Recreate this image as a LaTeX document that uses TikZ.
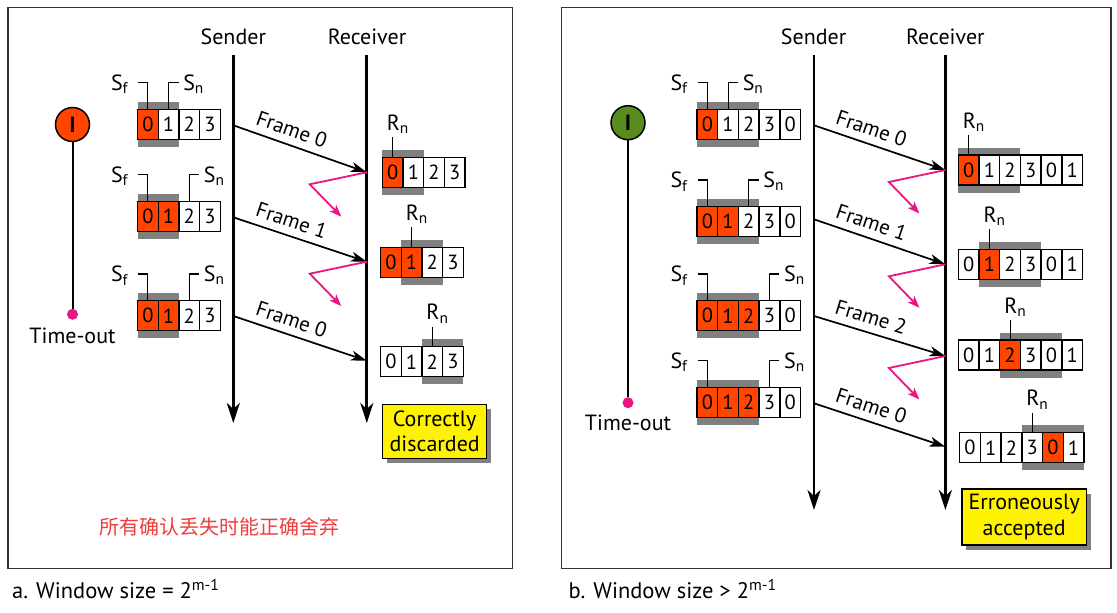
\documentclass[tikz,border=0pt]{standalone}
\usepackage{fontspec}
\setmainfont{PT Sans}
\newfontfamily\cjk{Noto Sans CJK SC}
\usepackage{tikz}
\usetikzlibrary{arrows.meta, calc, shadows}

\definecolor{winred}{RGB}{255,69,0}
\definecolor{winshade}{RGB}{128,128,128}
\definecolor{timergreen}{RGB}{88,140,30}
\definecolor{lostpink}{RGB}{236,20,130}
\definecolor{notered}{RGB}{240,60,60}
\definecolor{panelgray}{RGB}{50,50,50}

\def\cellw{20.7}
\def\cellh{30}

\newcommand{\seqwin}[6]{%
  \fill[winshade] (#2+#5*\cellw, #3-7.5) rectangle (#2+#5*\cellw+#6*\cellw, #3+\cellh+7.5);
  \foreach \dg/\col [count=\idx from 0] in {#4}
    \node[cell, fill=\col] (#1-\idx) at (#2+\idx*\cellw+0.5*\cellw, #3+0.5*\cellh) {\dg};
}
\newcommand{\sfptr}[2]{%
  \draw[ptr] (#1-#2.north) -- ++(0,-26) -- ++(-9.5,0) coordinate (#1-sfend);
  \node[lbl, anchor=base east] (#1-sf) at ([xshift=-10pt, yshift=-7.4pt]#1-sfend) {S\textsubscript{f}};
}
\newcommand{\snptr}[2]{%
  \draw[ptr] (#1-#2.north) -- ++(0,-26) -- ++(10,0) coordinate (#1-snend);
  \node[lbl, anchor=base west] (#1-sn) at ([xshift=4.5pt, yshift=-7.4pt]#1-snend) {S\textsubscript{n}};
}
\newcommand{\rnptr}[2]{%
  \draw[ptr] (#1-#2.north) -- ++(0,-19.5) coordinate (#1-rntop);
  \node[lbl, anchor=base west] (#1-rn) at ([xshift=-6pt, yshift=6.6pt]#1-rntop) {R\textsubscript{n}};
}

\begin{document}
\begin{tikzpicture}[x=1pt, y=-1pt,
    heading/.style={font=\fontsize{22}{22}\selectfont, anchor=base, inner sep=0pt},
    lifeline/.style={line width=2.8pt, -{Stealth[length=20pt, width=13pt, inset=6pt]}},
    cell/.style={draw, line width=1.4pt, minimum width=20.7pt, minimum height=30pt, inner sep=0pt, font=\fontsize{20.5}{20.5}\selectfont},
    ptr/.style={line width=1.1pt},
    lbl/.style={font=\fontsize{22}{22}\selectfont, inner sep=0pt},
    framearrow/.style={line width=1.7pt, -{Stealth[length=16pt, width=10pt, inset=4.5pt]}},
    flabel/.style={font=\fontsize{21}{21}\selectfont, sloped, above, pos=.4, inner sep=7pt},
    lost/.style={lostpink, line width=1.8pt, -{Stealth[length=12pt, width=9pt, inset=3pt]}},
    timer/.style={circle, draw, line width=1.5pt, minimum size=34pt, inner sep=0pt, font=\bfseries\fontsize{22}{22}\selectfont},
    timeout/.style={circle, fill=lostpink, minimum size=11pt, inner sep=0pt},
    verdict/.style={draw, line width=1.3pt, fill=yellow, align=center, inner sep=0pt, font=\fontsize{22}{25.7}\selectfont, drop shadow={fill=winshade, opacity=1, shadow xshift=4.5pt, shadow yshift=-5pt}},
    caption/.style={font=\fontsize{22.5}{24}\selectfont, anchor=base west, inner sep=0pt}
]
    \fill[white] (0,0) rectangle (1117,613);
    \useasboundingbox (0,0) rectangle (1117,613);

    % a. window size = 2^(m-1)
    \draw[panelgray, line width=1.5pt] (7.9,7.5) rectangle (512.6,568.7);
    \node[heading] (a-sender) at (233.3,45) {Sender};
    \node[heading] (a-receiver) at (367,45) {Receiver};
    \coordinate (a-s-top) at (233.3,55);
    \coordinate (a-s-end) at (233.3,423);
    \coordinate (a-r-top) at (366.8,55);
    \coordinate (a-r-end) at (366.8,423);
    \draw[lifeline] (a-s-top) -- (a-s-end);
    \draw[lifeline] (a-r-top) -- (a-r-end);

    \node[timer, fill=winred] (a-timer) at (72.5,124.5) {I};
    \node[timeout] (a-dot) at (72.5,314.3) {};
    \draw[line width=2pt] (a-timer) -- (a-dot);
    \node[heading] (a-timeout) at (72.5,343.3) {Time-out};

    \seqwin{a-w1}{137.5}{109.3}{0/winred,1/white,2/white,3/white}{0}{2}
    \sfptr{a-w1}{0} \snptr{a-w1}{1}
    \seqwin{a-w2}{137.5}{201.3}{0/winred,1/winred,2/white,3/white}{0}{2}
    \sfptr{a-w2}{0} \snptr{a-w2}{2}
    \seqwin{a-w3}{137.5}{300.7}{0/winred,1/winred,2/white,3/white}{0}{2}
    \sfptr{a-w3}{0} \snptr{a-w3}{2}

    \seqwin{a-r1}{382.3}{157.3}{0/winred,1/white,2/white,3/white}{0}{2}
    \rnptr{a-r1}{0}
    \seqwin{a-r2}{380.5}{247.3}{0/winred,1/winred,2/white,3/white}{1}{2}
    \rnptr{a-r2}{1}
    \seqwin{a-r3}{380.5}{346.7}{0/white,1/white,2/white,3/white}{2}{2}
    \rnptr{a-r3}{2}

    \coordinate (a-f1s) at (233.3,125.3);
    \coordinate (a-f1r) at (366.8,172.3);
    \coordinate (a-f2s) at (233.3,217.3);
    \coordinate (a-f2r) at (366.8,261.7);
    \coordinate (a-f3s) at (233.3,316);
    \coordinate (a-f3r) at (366.8,360.7);
    \draw[framearrow] (a-f1s) -- node[flabel] (a-f1) {Frame 0} (a-f1r);
    \draw[framearrow] (a-f2s) -- node[flabel] (a-f2) {Frame 1} (a-f2r);
    \draw[framearrow] (a-f3s) -- node[flabel] (a-f3) {Frame 0} (a-f3r);
    \draw[lost] (a-f1r) -- ++(-57,12) -- ++(31.5,32.4);
    \draw[lost] (a-f2r) -- ++(-57,12) -- ++(31.5,32.4);

    \node[verdict, minimum width=104pt, minimum height=54pt] (a-verdict) at (434.7,431.3) {Correctly\\discarded};
    \node[font=\cjk\fontsize{20}{20}\selectfont, text=notered] (a-note) at (219.7,526.7) {所有确认丢失时能正确舍弃};
    \node[caption] (a-caption) at (12,598) {a. Window size = 2\textsuperscript{m-1}};

    % b. window size > 2^(m-1)
    \draw[panelgray, line width=1.5pt] (561.3,7.5) rectangle (1110.8,568.7);
    \node[heading] (b-sender) at (813.6,45) {Sender};
    \node[heading] (b-receiver) at (945.4,45) {Receiver};
    \coordinate (b-s-top) at (814,55);
    \coordinate (b-s-end) at (814,510);
    \coordinate (b-r-top) at (945.4,55);
    \coordinate (b-r-end) at (945.4,510);
    \draw[lifeline] (b-s-top) -- (b-s-end);
    \draw[lifeline] (b-r-top) -- (b-r-end);

    \node[timer, fill=timergreen] (b-timer) at (628,122.7) {I};
    \node[timeout] (b-dot) at (628,402.7) {};
    \draw[line width=2pt] (b-timer) -- (b-dot);
    \node[heading] (b-timeout) at (628,430.7) {Time-out};

    \seqwin{b-w1}{697}{109.3}{0/winred,1/white,2/white,3/white,0/white}{0}{3}
    \sfptr{b-w1}{0} \snptr{b-w1}{1}
    \seqwin{b-w2}{697}{206.7}{0/winred,1/winred,2/white,3/white,0/white}{0}{3}
    \sfptr{b-w2}{0} \snptr{b-w2}{2}
    \seqwin{b-w3}{697}{300.7}{0/winred,1/winred,2/winred,3/white,0/white}{0}{3}
    \sfptr{b-w3}{0} \snptr{b-w3}{3}
    \seqwin{b-w4}{697}{387.3}{0/winred,1/winred,2/winred,3/white,0/white}{0}{3}
    \sfptr{b-w4}{0} \snptr{b-w4}{3}

    \seqwin{b-r1}{958.3}{155}{0/winred,1/white,2/white,3/white,0/white,1/white}{0}{3}
    \rnptr{b-r1}{0}
    \seqwin{b-r2}{958.3}{249.3}{0/white,1/winred,2/white,3/white,0/white,1/white}{1}{3}
    \rnptr{b-r2}{1}
    \seqwin{b-r3}{958.3}{340}{0/white,1/white,2/winred,3/white,0/white,1/white}{2}{3}
    \rnptr{b-r3}{2}
    \seqwin{b-r4}{959.7}{432.7}{0/white,1/white,2/white,3/white,0/winred,1/white}{3}{3}
    \rnptr{b-r4}{3}

    \coordinate (b-f1s) at (814,125.3);
    \coordinate (b-f1r) at (945.4,170);
    \coordinate (b-f2s) at (814,219.3);
    \coordinate (b-f2r) at (945.4,264.3);
    \coordinate (b-f3s) at (814,316);
    \coordinate (b-f3r) at (945.4,356);
    \coordinate (b-f4s) at (814,403.3);
    \coordinate (b-f4r) at (945.4,446.7);
    \draw[framearrow] (b-f1s) -- node[flabel] (b-f1) {Frame 0} (b-f1r);
    \draw[framearrow] (b-f2s) -- node[flabel] (b-f2) {Frame 1} (b-f2r);
    \draw[framearrow] (b-f3s) -- node[flabel] (b-f3) {Frame 2} (b-f3r);
    \draw[framearrow] (b-f4s) -- node[flabel] (b-f4) {Frame 0} (b-f4r);
    \draw[lost] (b-f1r) -- ++(-56.5,12) -- ++(30.5,31.5);
    \draw[lost] (b-f2r) -- ++(-56.5,12) -- ++(30.5,31.5);
    \draw[lost] (b-f3r) -- ++(-56.5,12) -- ++(30.5,31.5);

    \node[verdict, minimum width=124.5pt, minimum height=56pt] (b-verdict) at (1024.2,517) {Erroneously\\accepted};
    \node[caption] (b-caption) at (568.5,598) {b. Window size > 2\textsuperscript{m-1}};
\end{tikzpicture}
\end{document}
